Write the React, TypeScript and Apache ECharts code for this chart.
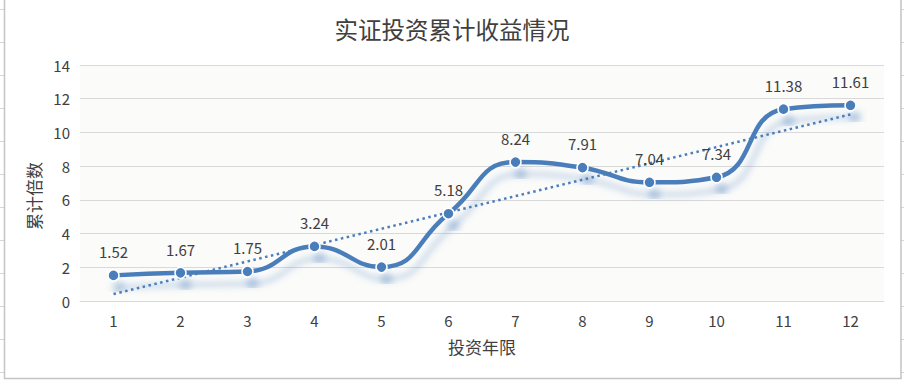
import React, { useEffect, useRef } from "react";
import * as echarts from "echarts";

const titleText = "实证投资累计收益情况";
const xAxisName = "投资年限";
const yAxisName = "累计倍数";
const categories = ["1", "2", "3", "4", "5", "6", "7", "8", "9", "10", "11", "12"];
const values = [1.52, 1.67, 1.75, 3.24, 2.01, 5.18, 8.24, 7.91, 7.04, 7.34, 11.38, 11.61];
// linear trendline end points (at year 1 and year 12)
const trendStart = 0.41;
const trendEnd = 11.07;

const FONT = "'Microsoft YaHei', 'Noto Sans CJK SC', sans-serif";
const TXT = "#404040";
const BLUE = "#4a7ebb";
const SHADOW = "rgba(74,126,187,0.3)";

export default function App() {
  const ref = useRef<HTMLDivElement>(null);
  useEffect(() => {
    if (!ref.current) return;
    const chart = echarts.init(ref.current, undefined, { renderer: "svg" });
    const rowYs = [9, 42, 75, 108, 141, 174, 207, 240, 273, 306, 339, 372];
    const sheetLines: any[] = [];
    rowYs.forEach((y) => {
      sheetLines.push({ type: "line", silent: true, shape: { x1: 0, y1: y + 0.5, x2: 4, y2: y + 0.5 }, style: { stroke: "#d6d6d6", lineWidth: 1 } });
      sheetLines.push({ type: "line", silent: true, shape: { x1: 901, y1: y + 0.5, x2: 904, y2: y + 0.5 }, style: { stroke: "#d6d6d6", lineWidth: 1 } });
    });
    chart.setOption({
      animation: false,
      backgroundColor: "#ffffff",
      textStyle: { fontFamily: FONT },
      title: {
        text: titleText,
        left: "center",
        top: 12,
        textStyle: { fontSize: 23.5, fontWeight: "normal", color: TXT, fontFamily: FONT },
      },
      grid: {
        left: 80,
        right: 20,
        top: 65,
        bottom: 80,
        show: true,
        backgroundColor: "#fbfbfa",
        borderWidth: 0,
      },
      xAxis: {
        type: "category",
        data: categories,
        boundaryGap: true,
        name: xAxisName,
        nameLocation: "middle",
        nameGap: 37,
        nameTextStyle: { fontSize: 17, color: TXT, fontFamily: FONT },
        axisLine: { show: true, lineStyle: { color: "#d9d9d9", width: 1 } },
        axisTick: { show: false },
        axisLabel: { color: TXT, fontSize: 15, margin: 12, fontFamily: FONT },
        splitLine: { show: false },
      },
      yAxis: {
        type: "value",
        min: 0,
        max: 14,
        interval: 2,
        name: yAxisName,
        nameLocation: "middle",
        nameRotate: 90,
        nameGap: 36,
        nameTextStyle: { fontSize: 17, color: TXT, fontFamily: FONT, padding: [0, 26, 0, 0] },
        axisLine: { show: false },
        axisTick: { show: false },
        axisLabel: { color: TXT, fontSize: 15, margin: 10, fontFamily: FONT },
        splitLine: { show: true, lineStyle: { color: "#d9d9d9", width: 1 } },
      },
      series: [
        {
          type: "line",
          data: [
            [0, trendStart],
            [categories.length - 1, trendEnd],
          ],
          symbol: "none",
          silent: true,
          z: 3,
          lineStyle: { color: BLUE, width: 2.5, type: [2.5, 3.5] },
        },
        {
          type: "line",
          data: values,
          smooth: 0.5,
          symbol: "circle",
          symbolSize: 11,
          z: 4,
          lineStyle: {
            color: BLUE,
            width: 4.5,
            shadowColor: SHADOW,
            shadowBlur: 6,
            shadowOffsetX: 5,
            shadowOffsetY: 12,
          },
          itemStyle: {
            color: BLUE,
            borderColor: "#ffffff",
            borderWidth: 1.5,
            shadowColor: SHADOW,
            shadowBlur: 6,
            shadowOffsetX: 5,
            shadowOffsetY: 12,
          },
          label: {
            show: true,
            position: "top",
            distance: 10,
            color: TXT,
            fontSize: 15,
            fontFamily: FONT,
          },
        },
      ],
      graphic: [
        {
          type: "rect",
          silent: true,
          shape: { x: 4.5, y: -5, width: 896.5, height: 383.5 },
          style: { fill: "none", stroke: "#c4c4c4", lineWidth: 1.5 },
          z: 100,
        },
        ...sheetLines,
      ],
    });
    return () => chart.dispose();
  }, []);
  return (
    <div
      ref={ref}
      style={{ position: "fixed", left: 0, top: 0, width: 904, height: 381 }}
    />
  );
}
